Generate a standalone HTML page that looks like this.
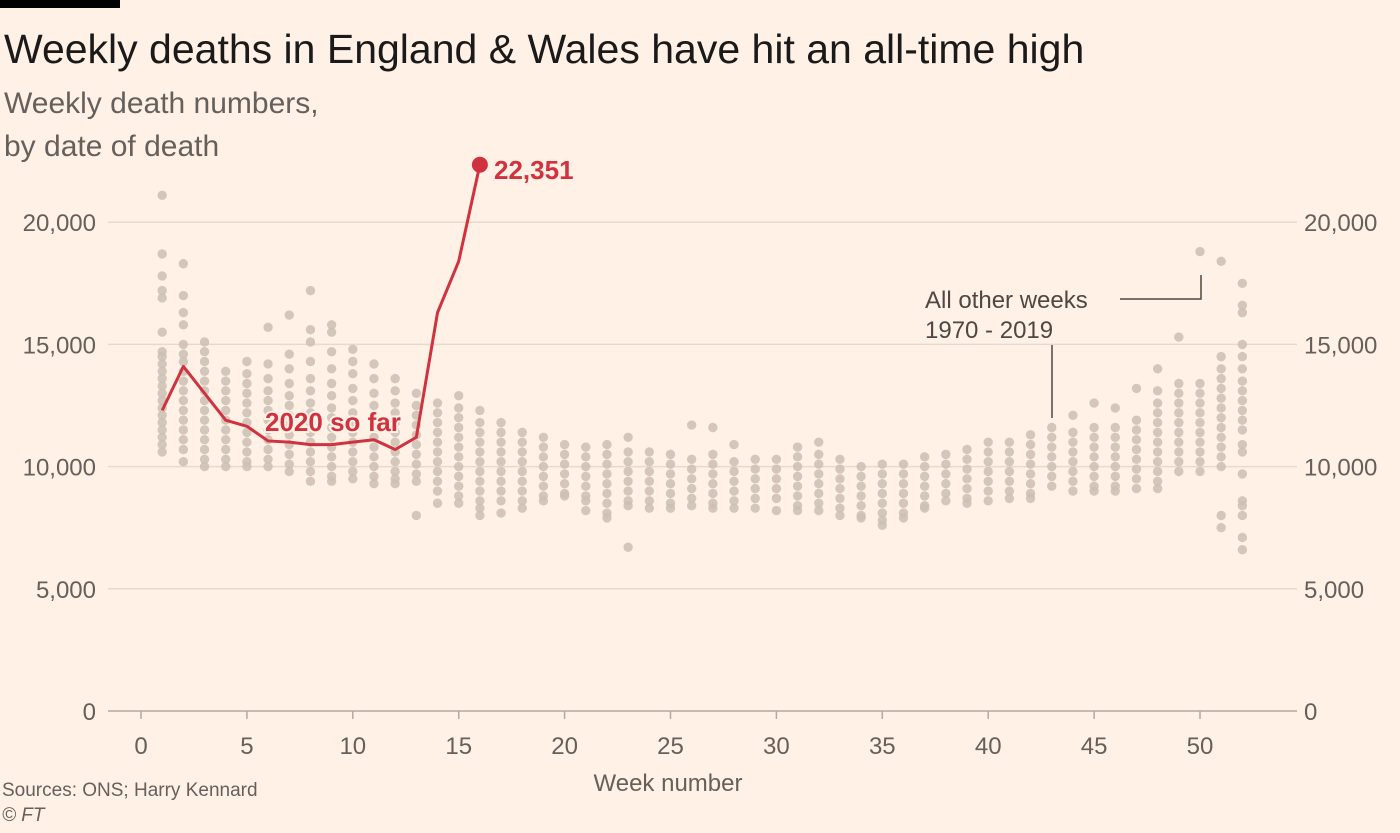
<!DOCTYPE html>
<html><head><meta charset="utf-8"><style>
body{margin:0;background:#fff1e5;width:1400px;height:828px;overflow:hidden;font-family:"Liberation Sans",sans-serif}
</style></head><body>
<svg width="1400" height="828" xmlns="http://www.w3.org/2000/svg">
<rect width="1400" height="828" fill="#fff1e5"/>
<rect x="0" y="0" width="120" height="8" fill="#000"/>
<text x="4" y="63" font-size="41" fill="#1a1a1a">Weekly deaths in England &amp; Wales have hit an all-time high</text>
<text x="4" y="113" font-size="30" fill="#66605c">Weekly death numbers,</text>
<text x="4" y="156" font-size="30" fill="#66605c">by date of death</text>
<g id="grid"></g><g id="dots"></g><g id="line"></g>
<text x="925" y="308" font-size="24" fill="#4d4845">All other weeks</text>
<text x="925" y="338" font-size="24" fill="#4d4845">1970 - 2019</text>
<path d="M1120 299 H1201 V275" fill="none" stroke="#4d4845" stroke-width="1.5"/>
<path d="M1052 345 V418" fill="none" stroke="#4d4845" stroke-width="1.5"/>
<text x="265" y="431" font-size="26" font-weight="600" fill="#d0323f" style="paint-order:stroke" stroke="#fff1e5" stroke-width="4">2020 so far</text>
<text x="494" y="179" font-size="26" font-weight="bold" fill="#d0323f">22,351</text>
<text x="668" y="791" font-size="24" fill="#66605c" text-anchor="middle">Week number</text>
<text x="2" y="796" font-size="19" fill="#66605c">Sources: ONS; Harry Kennard</text>
<text x="2" y="821" font-size="19" font-style="italic" fill="#66605c">© FT</text>
</svg>
<script>
const yTicks=[0,5000,10000,15000,20000];
const xTicks=[0,5,10,15,20,25,30,35,40,45,50];
const series2020=[12300,14100,13000,11900,11650,11050,11000,10900,10900,11000,11100,10700,11200,16300,18400,22351];
const hist=[
[21.1,18.7,17.8,17.2,16.9,15.5,14.7,14.5,14.2,13.9,13.6,13.3,13.0,12.7,12.4,12.1,11.8,11.5,11.2,10.9,10.6],
[18.3,17.0,16.3,15.8,15.0,14.6,14.3,13.9,13.5,13.1,12.7,12.3,11.9,11.5,11.1,10.7,10.2],
[15.1,14.7,14.3,13.9,13.5,13.1,12.7,12.3,11.9,11.5,11.1,10.7,10.3,10.0],
[13.9,13.5,13.1,12.7,12.3,11.9,11.5,11.1,10.7,10.3,10.0],
[14.3,13.8,13.4,13.0,12.6,12.2,11.8,11.4,11.0,10.6,10.2,10.0],
[15.7,14.2,13.6,13.1,12.7,12.3,11.9,11.5,11.1,10.7,10.3,10.0],
[16.2,14.6,14.0,13.4,12.9,12.5,12.1,11.7,11.3,10.9,10.5,10.1,9.8],
[17.2,15.6,15.1,14.3,13.6,13.1,12.6,12.2,11.8,11.4,11.0,10.6,10.2,9.8,9.4],
[15.8,15.5,14.7,14.0,13.4,12.9,12.4,12.0,11.6,11.2,10.8,10.4,10.0,9.6,9.4],
[14.8,14.3,13.8,13.2,12.7,12.2,11.8,11.4,11.0,10.6,10.2,9.8,9.5],
[14.2,13.6,13.0,12.5,12.0,11.6,11.2,10.8,10.4,10.0,9.6,9.3],
[13.6,13.1,12.6,12.2,11.8,11.4,11.0,10.6,10.2,9.8,9.5,9.3],
[13.0,12.5,12.1,11.7,11.3,10.9,10.5,10.1,9.7,9.4,8.0],
[12.6,12.2,11.8,11.4,11.0,10.6,10.2,9.8,9.4,9.0,8.5],
[12.9,12.4,12.0,11.6,11.2,10.8,10.4,10.0,9.6,9.2,8.8,8.5],
[12.3,11.8,11.4,11.0,10.6,10.2,9.8,9.4,9.0,8.6,8.3,8.0],
[11.8,11.4,11.0,10.6,10.2,9.8,9.4,9.0,8.6,8.1],
[11.4,11.0,10.6,10.2,9.8,9.4,9.0,8.6,8.3],
[11.2,10.8,10.4,10.0,9.6,9.2,8.8,8.6],
[10.9,10.5,10.1,9.7,9.3,8.9,8.8],
[10.8,10.4,10.0,9.6,9.2,8.8,8.6,8.2],
[10.9,10.5,10.1,9.7,9.3,8.9,8.5,8.1,7.9],
[11.2,10.6,10.2,9.8,9.4,9.0,8.6,8.4,6.7],
[10.6,10.2,9.8,9.4,9.0,8.6,8.3],
[10.5,10.1,9.7,9.3,8.9,8.5,8.3],
[11.7,10.3,9.9,9.5,9.1,8.7,8.4],
[11.6,10.5,10.1,9.7,9.3,8.9,8.5,8.3],
[10.9,10.2,9.8,9.4,9.0,8.6,8.3],
[10.3,9.9,9.5,9.1,8.7,8.3],
[10.3,9.9,9.5,9.1,8.7,8.2],
[10.8,10.4,10.0,9.6,9.2,8.8,8.4,8.2],
[11.0,10.5,10.1,9.7,9.3,8.9,8.5,8.2],
[10.3,9.9,9.5,9.1,8.7,8.3,8.0],
[10.0,9.6,9.2,8.8,8.4,8.0,7.9],
[10.1,9.7,9.3,8.9,8.5,8.1,7.8,7.6],
[10.1,9.7,9.3,8.9,8.5,8.1,7.9],
[10.4,10.0,9.6,9.2,8.8,8.4,8.3],
[10.5,10.1,9.7,9.3,8.9,8.6],
[10.7,10.3,9.9,9.5,9.1,8.7,8.5],
[11.0,10.6,10.2,9.8,9.4,9.0,8.6],
[11.0,10.6,10.2,9.8,9.4,9.0,8.7],
[11.3,10.9,10.5,10.1,9.7,9.3,8.9,8.7],
[11.6,11.2,10.8,10.4,10.0,9.6,9.2],
[12.1,11.4,11.0,10.6,10.2,9.8,9.4,9.0],
[12.6,11.6,11.2,10.8,10.4,10.0,9.6,9.2,9.0],
[12.4,11.6,11.2,10.8,10.4,10.0,9.6,9.2,9.0],
[13.2,11.9,11.5,11.1,10.7,10.3,9.9,9.5,9.1],
[14.0,13.1,12.6,12.2,11.8,11.4,11.0,10.6,10.2,9.8,9.4,9.1],
[15.3,13.4,13.0,12.6,12.2,11.8,11.4,11.0,10.6,10.2,9.8],
[18.8,13.4,13.0,12.6,12.2,11.8,11.4,11.0,10.6,10.2,9.8],
[18.4,14.5,14.0,13.6,13.2,12.8,12.4,12.0,11.6,11.2,10.8,10.4,10.0,8.0,7.5],
[17.5,16.6,16.3,15.0,14.5,14.0,13.5,13.1,12.7,12.3,11.9,11.5,10.9,10.6,9.7,8.6,8.4,8.0,7.1,6.6]
];
const NS="http://www.w3.org/2000/svg";
const x=w=>141+w*21.18;
const y=v=>711-v*0.02444;
function mk(t,a,p){const e=document.createElementNS(NS,t);for(const k in a)e.setAttribute(k,a[k]);p.appendChild(e);return e;}
const grid=document.getElementById('grid');
yTicks.forEach(v=>{
 if(v>0){const l=mk('line',{x1:108,x2:1297,y1:y(v),y2:y(v),stroke:'#e6d9ce','stroke-width':1.5},grid);
 
 }
 const s=v.toLocaleString('en-US');
 const a=mk('text',{x:96,y:y(v)+9,'font-size':24,fill:'#66605c','text-anchor':'end'},grid);a.textContent=s;
 
 
 const b=mk('text',{x:1304,y:y(v)+9,'font-size':24,fill:'#66605c'},grid);b.textContent=s;
 
 
});
const ax=mk('line',{x1:108,x2:1297,y1:711,y2:711,stroke:'#b3a9a0','stroke-width':1.5},grid);


xTicks.forEach(w=>{
 const t=mk('line',{x1:x(w),x2:x(w),y1:711,y2:719,stroke:'#b3a9a0','stroke-width':1.5},grid);
 
 
 const l=mk('text',{x:x(w),y:754,'font-size':24,fill:'#66605c','text-anchor':'middle'},grid);l.textContent=w;
 
 
});
const dots=document.getElementById('dots');
hist.forEach((vals,i)=>vals.forEach(v=>{
 const c=mk('circle',{cx:x(i+1),cy:y(v*1000),r:4.7,fill:'#cbbfb5','fill-opacity':0.85},dots);
 
 
}));
const lg=document.getElementById('line');
const p=mk('polyline',{points:series2020.map((v,i)=>x(i+1)+','+y(v)).join(' '),fill:'none',stroke:'#d0323f','stroke-width':3,'stroke-linejoin':'round'},lg);


const n=series2020.length;
const d=mk('circle',{cx:x(n),cy:y(series2020[n-1]),r:8,fill:'#d0323f'},lg);


</script>
</body></html>
